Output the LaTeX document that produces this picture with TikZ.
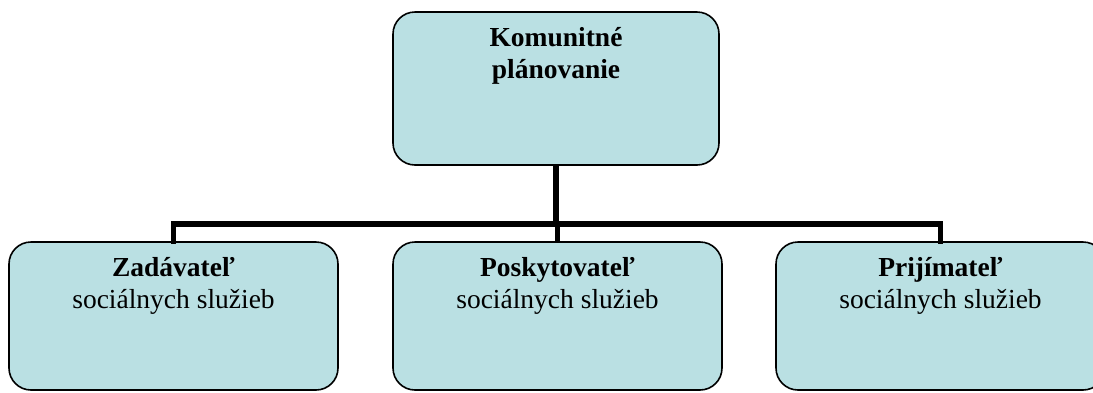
\documentclass[tikz,border=0pt]{standalone}
\usepackage{fontspec}
\setmainfont{Liberation Serif}
\definecolor{boxfill}{HTML}{BAE0E3}
\tikzset{
  orgbox/.style={draw=black, line width=1.6pt, fill=boxfill, rounded corners=22pt, inner sep=0pt},
  orgtext/.style={anchor=base, align=center, inner sep=0pt, font=\fontsize{27.5}{32}\selectfont},
  link/.style={draw=black, line width=5.5pt}
}
\begin{document}
\begin{tikzpicture}[x=1pt,y=-1pt]
\useasboundingbox (0,0) rectangle (1093,392);
\clip (0,0) rectangle (1093,392);
\node[orgbox, minimum width=326pt, minimum height=153pt] (top) at (556,88.5) {};
\node[orgbox, minimum width=329pt, minimum height=148pt] (left) at (173.5,316) {};
\node[orgbox, minimum width=329pt, minimum height=148pt] (mid) at (557.5,316) {};
\node[orgbox, minimum width=329pt, minimum height=148pt] (right) at (940.5,316) {};
\coordinate (bar) at (556,224);
\draw[link] (top.south) -- (top.south |- bar);
\draw[link, line cap=rect] (left.north) -- (left.north |- bar) -- (right.north |- bar) -- (right.north);
\draw[link] (mid.north |- bar) -- (mid.north);
\node[orgtext, anchor=north] (toptext) at ([yshift=-16pt]top.north) {\textbf{Komunitné}\\\textbf{plánovanie}};
\node[orgtext, anchor=north] (lefttext) at ([yshift=-16pt]left.north) {\textbf{Zadávateľ}\\sociálnych služieb};
\node[orgtext, anchor=north] (midtext) at ([yshift=-16pt]mid.north) {\textbf{Poskytovateľ}\\sociálnych služieb};
\node[orgtext, anchor=north] (righttext) at ([yshift=-16pt]right.north) {\textbf{Prijímateľ}\\sociálnych služieb};
\end{tikzpicture}
\end{document}
